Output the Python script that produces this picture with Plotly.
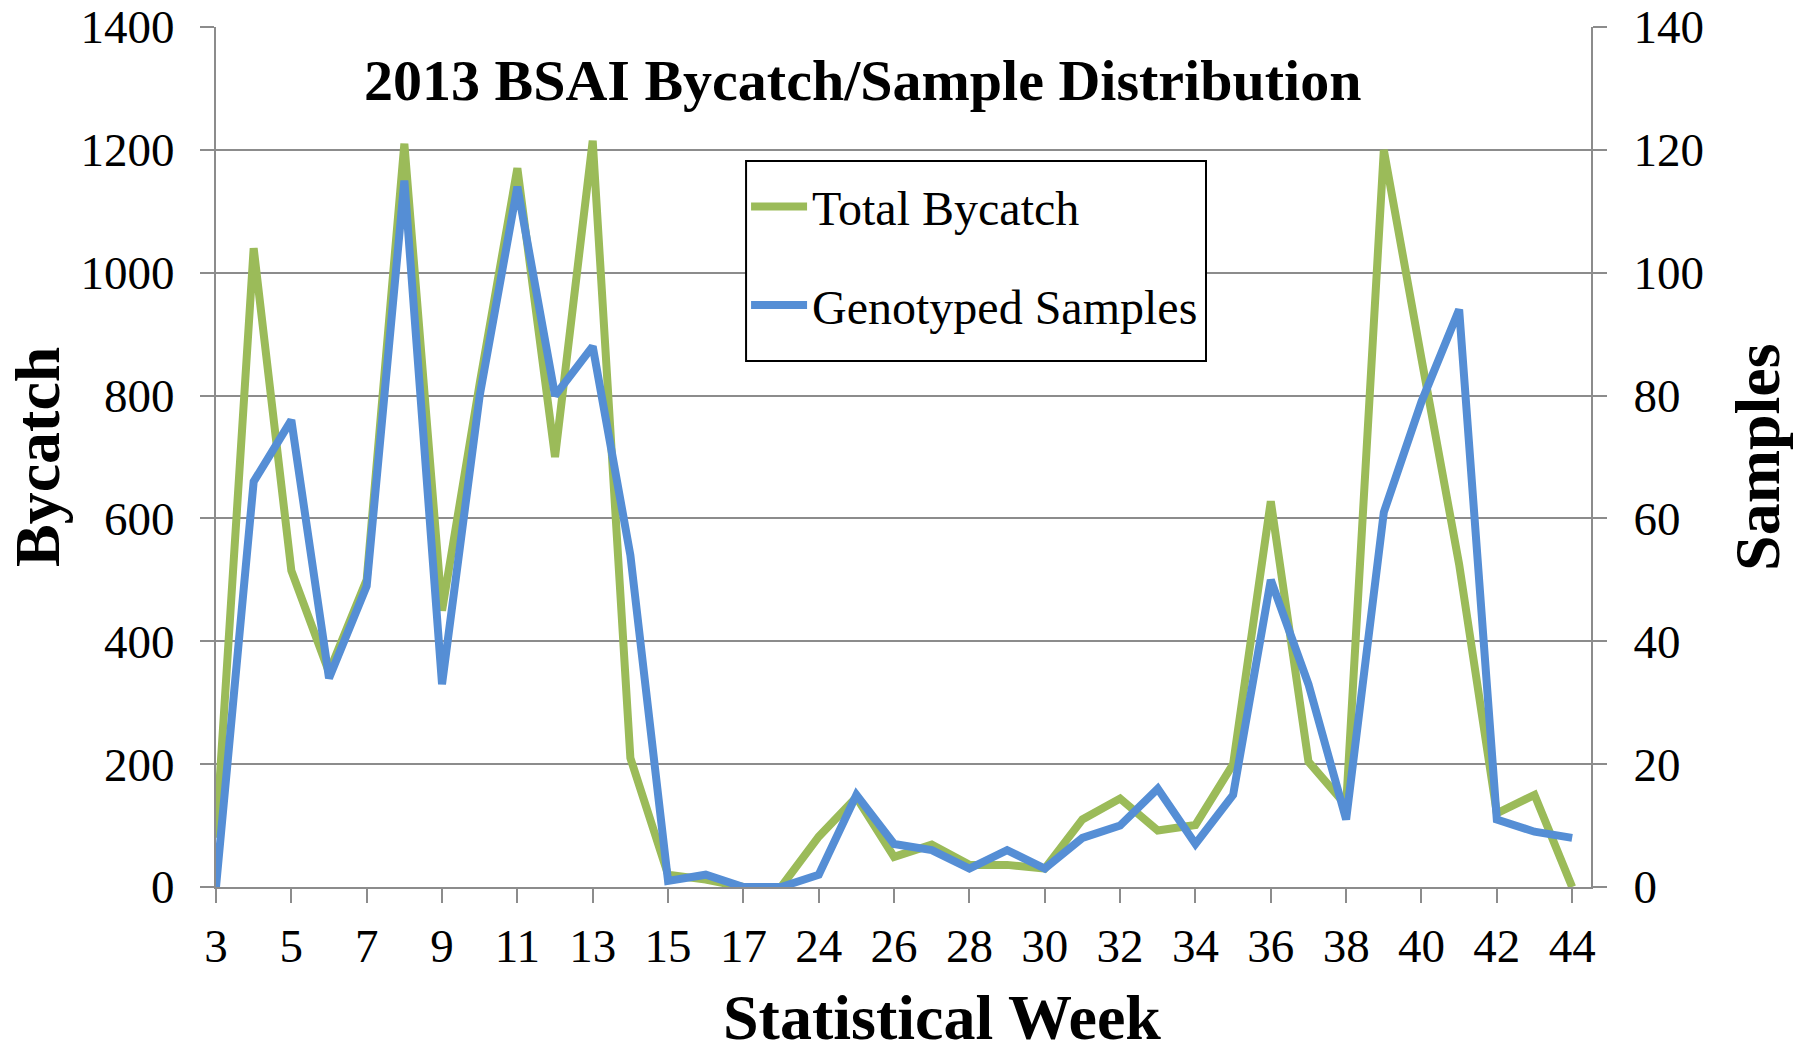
import plotly.graph_objects as go

# Statistical week categories (the week between 17 and 24 is unlabeled in the source)
weeks = ["3", "4", "5", "6", "7", "8", "9", "10", "11", "12", "13", "14", "15", "16",
         "17", "18", "24", "25", "26", "27", "28", "29", "30", "31", "32", "33", "34",
         "35", "36", "37", "38", "39", "40", "41", "42", "43", "44"]

total_bycatch = [80, 1040, 515, 350, 500, 1210, 450, 820, 1170, 700, 1215, 210, 20, 12,
                 0, 0, 82, 146, 49, 69, 36, 36, 30, 110, 144, 92, 101, 200, 628, 204,
                 133, 1200, 860, 525, 120, 150, 0]

genotyped_samples = [0, 66, 76, 34, 49, 115, 33, 80, 114, 80, 88, 54, 1, 2, 0, 0, 2, 15,
                     7, 6, 3, 6, 3, 8, 10, 16, 7, 15, 50, 33, 11, 61, 79, 94, 11, 9, 8]

GREEN = "#9BBB59"
BLUE = "#558ED5"
GRID = "#8C8C8C"
FONT = "Liberation Serif, Times New Roman, serif"

fig = go.Figure()

fig.add_trace(go.Scatter(
    x=weeks, y=total_bycatch, name="Total Bycatch", mode="lines",
    line=dict(color=GREEN, width=8), legendgroup="a",
))
fig.add_trace(go.Scatter(
    x=weeks, y=genotyped_samples, name="Genotyped Samples", mode="lines",
    line=dict(color=BLUE, width=8), yaxis="y2", legendgroup="b",
))

axis_common = dict(
    showline=True, linecolor=GRID, linewidth=2,
    ticks="outside", ticklen=14, tickcolor=GRID, tickwidth=2,
    tickfont=dict(size=47), automargin=False, zeroline=False,
    ticklabeloverflow="allow",
)

fig.update_layout(
    width=1796, height=1039,
    paper_bgcolor="white", plot_bgcolor="white",
    font=dict(family=FONT, color="black", size=47),
    margin=dict(l=208, r=213, t=19, b=160),
    showlegend=True,
    legend=dict(
        x=0.3855, y=0.835, xanchor="left", yanchor="top",
        borderwidth=0, bgcolor="rgba(0,0,0,0)",
        font=dict(size=48), tracegroupgap=33, itemwidth=56,
    ),
    xaxis=dict(
        type="category", range=[0, 36.5], dtick=2, showgrid=False,
        ticklabelstandoff=3, **axis_common,
    ),
    yaxis=dict(
        range=[0, 1400], dtick=200,
        showgrid=True, gridcolor=GRID, gridwidth=2,
        ticklabelstandoff=16, **axis_common,
    ),
    yaxis2=dict(
        range=[0, 140], dtick=20, overlaying="y", side="right", showgrid=False,
        ticklabelstandoff=17, **axis_common,
    ),
)

# legend frame (white box with black border, as in the original)
fig.add_shape(
    type="rect", xref="paper", yref="paper",
    x0=0.3855, x1=0.72, y0=0.6116, y1=0.8442,
    line=dict(color="black", width=2), fillcolor="white", layer="above",
)

# chart title and axis titles
fig.add_annotation(
    text="<b>2013 BSAI Bycatch/Sample Distribution</b>",
    xref="paper", yref="paper", x=0.4705, y=0.938,
    xanchor="center", yanchor="middle",
    showarrow=False, font=dict(size=58),
)
fig.add_annotation(
    text="<b>Statistical Week</b>",
    xref="paper", yref="paper", x=0.528, y=-0.1523,
    xanchor="center", yanchor="middle",
    showarrow=False, font=dict(size=64),
)
fig.add_annotation(
    text="<b>Bycatch</b>", textangle=-90,
    xref="paper", yref="paper", x=-0.1302, y=0.5,
    xanchor="center", yanchor="middle",
    showarrow=False, font=dict(size=64),
)
fig.add_annotation(
    text="<b>Samples</b>", textangle=-90,
    xref="paper", yref="paper", x=1.1207, y=0.5,
    xanchor="center", yanchor="middle",
    showarrow=False, font=dict(size=64),
)

fig.write_html("out.html")
